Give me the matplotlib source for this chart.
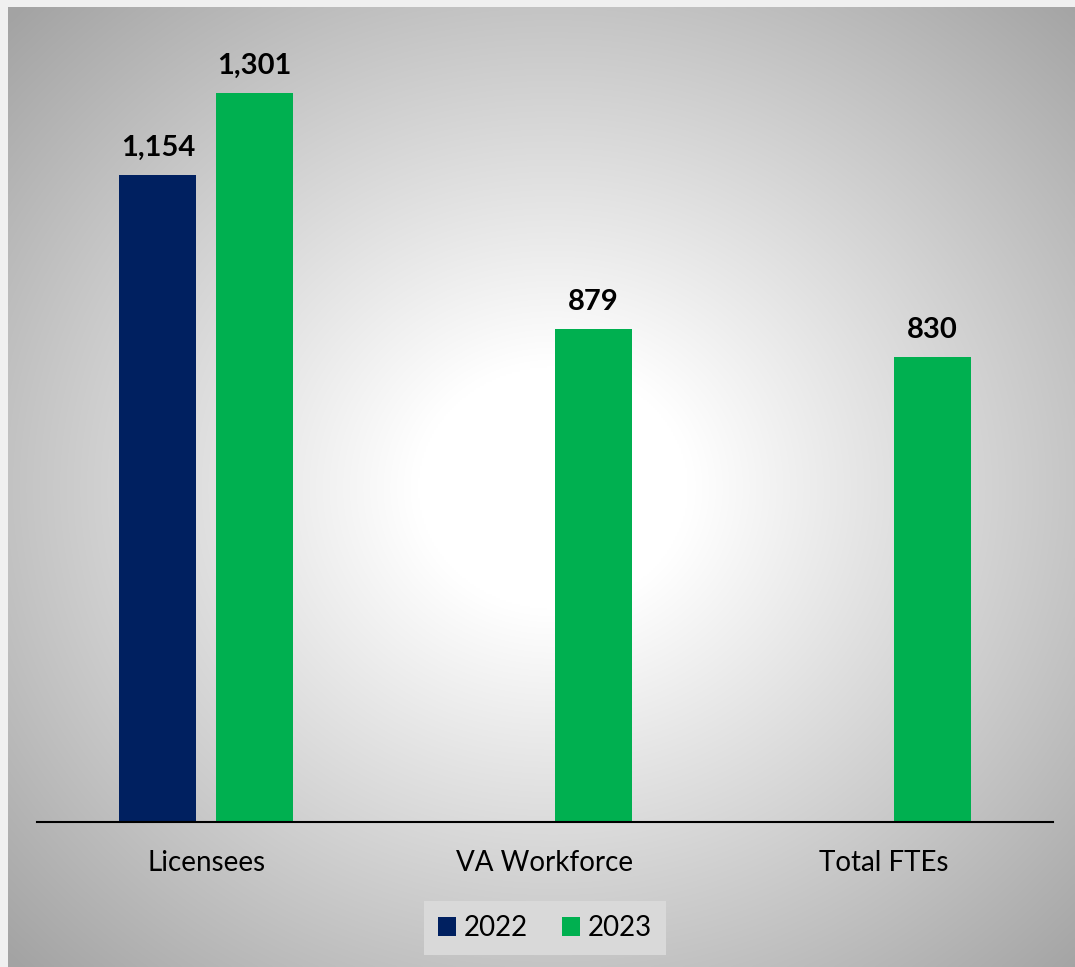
import numpy as np
import matplotlib
matplotlib.use("Agg")
import matplotlib.pyplot as plt
from matplotlib.patches import Patch

# data
categories = ["Licensees", "VA Workforce", "Total FTEs"]
years = ["2022", "2023"]
values_2022 = [1154, np.nan, np.nan]
values_2023 = [1301, 879, 830]

colors = {"2022": "#002060", "2023": "#00B050"}

plt.rcParams["font.family"] = ["Lato", "DejaVu Sans"]

W, H = 1075, 967
fig = plt.figure(figsize=(W / 100, H / 100), dpi=100)
fig.patch.set_facecolor("#f0f0f0")

# radial gray-to-white background
bg = fig.add_axes([8 / W, 0, 1 - 8 / W, 1 - 7 / H])
ny, nx = 480, 535
yy, xx = np.mgrid[0:ny, 0:nx]
cx, cy = 0.51 * nx, 0.50 * ny
r = np.hypot((xx - cx) / (nx * 0.5), (yy - cy) / (ny * 0.5)) / np.sqrt(2)
r = np.clip((r - 0.18) / 0.82, 0, 1)
gray = 1.0 - 0.36 * r
bg.imshow(np.dstack([gray] * 3), aspect="auto", interpolation="bilinear")
bg.set_axis_off()

ax = fig.add_axes([37 / W, 145 / H, (1053 - 37) / W, (822 - 37) / H])
ax.set_facecolor("none")

x = np.arange(len(categories))
width = 0.227
offset = 0.143
b1 = ax.bar(x - offset, values_2022, width, color=colors["2022"], label="2022")
b2 = ax.bar(x + offset, values_2023, width, color=colors["2023"], label="2023")

for bars, vals in ((b1, values_2022), (b2, values_2023)):
    for rect, v in zip(bars, vals):
        if np.isnan(v):
            continue
        ax.annotate(f"{v:,.0f}", (rect.get_x() + rect.get_width() / 2, v),
                    xytext=(0, 10), textcoords="offset points",
                    ha="center", va="bottom", fontsize=21, fontweight="bold")

ax.set_xlim(-0.5, 2.5)
ax.set_ylim(0, 1400)
ax.set_yticks([])
ax.set_xticks(x)
ax.set_xticklabels(categories, fontsize=20)
ax.tick_params(axis="x", length=0, pad=20)
for s in ("top", "left", "right"):
    ax.spines[s].set_visible(False)
ax.spines["bottom"].set_linewidth(1.5)
ax.spines["bottom"].set_color("black")

handles = [Patch(facecolor=colors[y], label=y) for y in years]
leg = fig.legend(handles=handles, loc="center", ncol=2,
                 bbox_to_anchor=(545 / W, 1 - 928 / H), fontsize=20,
                 frameon=True, fancybox=False, facecolor="#d9d9d9",
                 edgecolor="none", framealpha=1.0,
                 handlelength=0.65, handleheight=0.65, handletextpad=0.3,
                 columnspacing=1.2, borderpad=0.5)

fig.savefig("out.png", dpi=100)
